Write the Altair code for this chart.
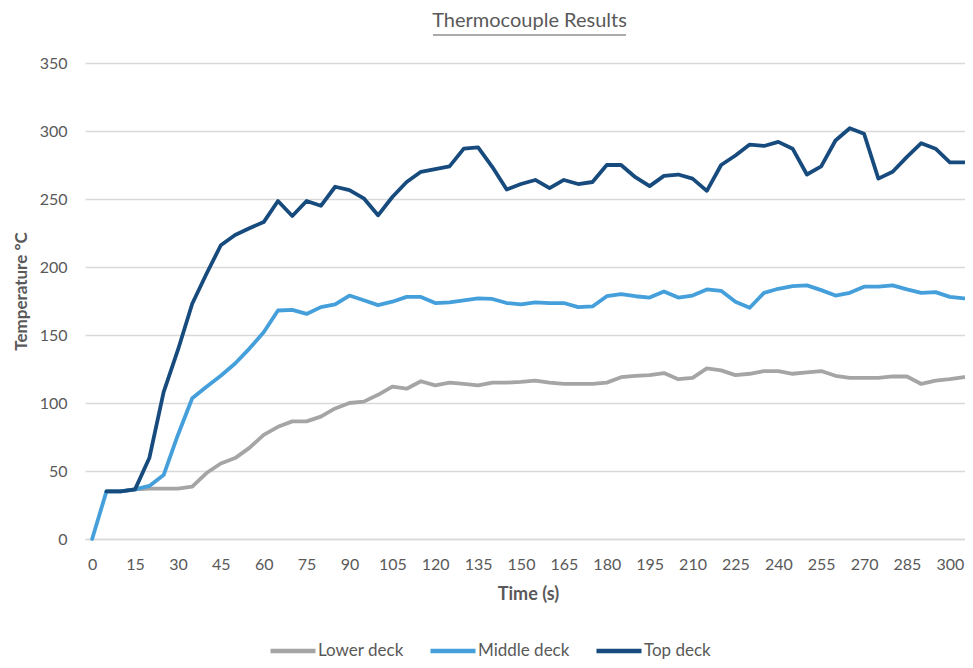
import altair as alt
import pandas as pd

# Time (s)
times = list(range(0, 310, 5))

lower_deck = [None, 35, 35, 36.5, 37, 37, 37, 38.5, 48.5, 55.5,
              59.5, 67, 76.5, 82.5, 86.5, 86.5, 90, 96, 100, 101,
              106, 112, 110.5, 116, 113, 115, 114, 113, 115, 115,
              115.5, 116.5, 115, 114, 114, 114, 115, 119, 120, 120.5,
              122, 117.5, 118.5, 125.5, 124, 120.5, 121.5, 123.5, 123.5, 121.5,
              122.5, 123.5, 120, 118.5, 118.5, 118.5, 119.5, 119.5, 114, 116.5,
              117.5, 119]

middle_deck = [0, 35, 35, 36.5, 39, 47, 76.5, 103.5, 112, 120,
               129, 140, 152, 168, 168.5, 165.5, 170.5, 172.5, 179, 175.5,
               172, 174.5, 178, 178, 173.5, 174, 175.5, 177, 176.5, 173.5,
               172.5, 174, 173.5, 173.5, 170.5, 171, 178.5, 180, 178.5, 177.5,
               182, 177.5, 179, 183.5, 182.5, 174.5, 170, 181, 184, 186,
               186.5, 183, 179, 181, 185.5, 185.5, 186.5, 183.5, 181, 181.5,
               178, 177]

top_deck = [None, 35, 35, 36.5, 59.5, 108, 139, 173, 195, 216,
            223.5, 228.5, 233, 248.5, 237.5, 248.5, 245, 259, 256.5, 250.5,
            238, 251.5, 262.5, 270, 272, 274, 287, 288, 273.5, 257,
            261, 264, 258, 264, 261, 262.5, 275, 275, 266, 259.5,
            267, 268, 265, 256, 275, 282, 290, 289, 292, 287,
            268, 274, 293, 302, 298, 265, 270, 281, 291, 287,
            277, 277]

series_names = ["Lower deck", "Middle deck", "Top deck"]
series_colors = ["#A5A5A5", "#449FDB", "#174B7D"]
x_ticks = list(range(0, 301, 15))
y_ticks = list(range(0, 351, 50))
chart_title = "Thermocouple Results"

rows = []
for name, vals in zip(series_names, [lower_deck, middle_deck, top_deck]):
    for i, (t, v) in enumerate(zip(times, vals)):
        if v is not None:
            rows.append({"Time": t, "Temp": v, "Series": name, "order": i})
df = pd.DataFrame(rows)
title_df = pd.DataFrame({"label": [chart_title]})

W, H = 880, 476
FONT = "Lato"
GREY = "#595959"

lines = alt.Chart(df).mark_line(
    strokeWidth=3.8, strokeCap="round", strokeJoin="round", clip=False
).encode(
    x=alt.X("Time:Q",
            scale=alt.Scale(domain=[-2.5, 305.3], nice=False, zero=False),
            axis=alt.Axis(values=x_ticks, title="Time (s)", grid=False,
                          ticks=False, domain=True, domainColor="#D9D9D9",
                          domainWidth=1.3, labelPadding=17, titlePadding=13,
                          titleFontSize=18, titleX=443, labelFlush=False)),
    y=alt.Y("Temp:Q",
            scale=alt.Scale(domain=[0, 350], nice=False),
            axis=alt.Axis(values=y_ticks, title="Temperature °C", grid=True,
                          gridColor="#D9D9D9", gridWidth=1.3, ticks=False,
                          domain=False, labelPadding=18, titlePadding=9,
                          titleFontSize=17, titleY=228)),
    color=alt.Color("Series:N",
                    scale=alt.Scale(domain=series_names, range=series_colors),
                    sort=series_names,
                    legend=alt.Legend(title=None, orient="none",
                                      direction="horizontal",
                                      legendX=183, legendY=563,
                                      symbolType="stroke", symbolSize=2025,
                                      symbolStrokeWidth=4.5, columnPadding=17,
                                      labelOffset=0, padding=0,
                                      labelFontSize=17, labelColor=GREY,
                                      labelFont=FONT)),
    detail="Series:N",
    order=alt.Order("order:Q"),
)

title_text = alt.Chart(title_df).mark_text(
    font=FONT, fontSize=20, color=GREY, align="center", baseline="alphabetic"
).encode(
    text="label:N", x=alt.value(444.5), y=alt.value(-36)
)

underline = alt.Chart(title_df).mark_rule(color=GREY, strokeWidth=1.2).encode(
    x=alt.value(348), x2=alt.value(541), y=alt.value(-28)
)

chart = alt.layer(title_text, underline, lines).properties(
    width=W, height=H,
    autosize=alt.AutoSizeParams(type="none"),
    padding={"left": 77, "top": 55, "right": 0, "bottom": 121},
).configure_view(stroke=None).configure_axis(
    labelFont=FONT, labelFontSize=16, labelColor=GREY,
    titleFont=FONT, titleFontSize=16, titleColor=GREY, titleFontWeight="bold",
)

chart.save("out.html", embed_options={"renderer": "svg", "actions": False})
